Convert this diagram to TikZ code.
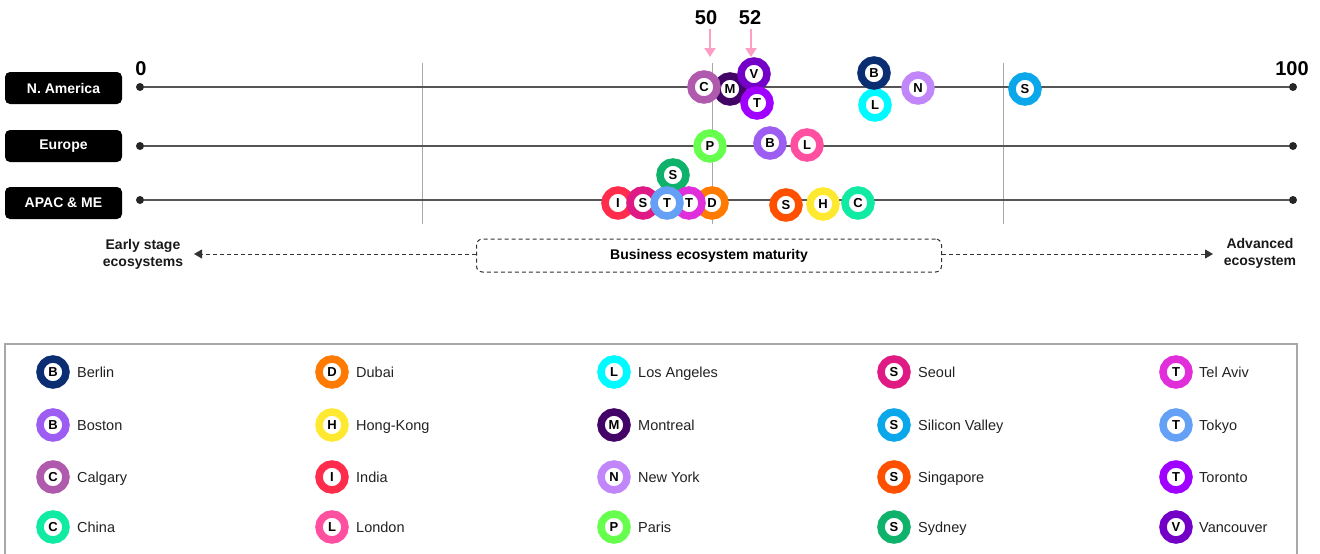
\documentclass[tikz,border=0pt]{standalone}
\usepackage{fontspec}
\setmainfont{Liberation Sans}
\usetikzlibrary{arrows.meta}
\definecolor{cBerlin}{HTML}{0B2D72}
\definecolor{cBoston}{HTML}{9D5CF2}
\definecolor{cCalgary}{HTML}{B05AAE}
\definecolor{cChina}{HTML}{10EBA4}
\definecolor{cDubai}{HTML}{FF7A00}
\definecolor{cHong}{HTML}{FFE930}
\definecolor{cIndia}{HTML}{FF2D4B}
\definecolor{cLondon}{HTML}{FF4FA0}
\definecolor{cLA}{HTML}{00FAFF}
\definecolor{cMontreal}{HTML}{430468}
\definecolor{cNY}{HTML}{C086FA}
\definecolor{cParis}{HTML}{66FF4D}
\definecolor{cSeoul}{HTML}{E01A85}
\definecolor{cSV}{HTML}{0AA8EB}
\definecolor{cSing}{HTML}{FF5000}
\definecolor{cSydney}{HTML}{0EB26A}
\definecolor{cTelAviv}{HTML}{E02EDB}
\definecolor{cTokyo}{HTML}{64A0F5}
\definecolor{cToronto}{HTML}{A000FF}
\definecolor{cVanc}{HTML}{7400C8}
\definecolor{pinkarrow}{HTML}{FF9EC4}
\definecolor{axisgray}{HTML}{555555}
\definecolor{gridgray}{HTML}{A8A8A8}
\definecolor{legtext}{HTML}{222222}
\tikzset{
  ring/.style={circle, draw=#1, line width=7.5pt, fill=white, minimum size=26pt, inner sep=0pt,
    font=\fontsize{13}{13}\selectfont\bfseries, text=black},
  region/.style={rectangle, rounded corners=5pt, fill=black, minimum width=117pt, minimum height=32pt,
    text=white, font=\fontsize{14}{14}\selectfont\bfseries, inner sep=0pt},
  enddot/.style={circle, fill=black!85, minimum size=8pt, inner sep=0pt},
  rowline/.style={draw=axisgray, line width=1.4pt},
  gridline/.style={draw=gridgray, line width=1pt},
  pinkarr/.style={draw=pinkarrow, line width=2.6pt, -{Triangle[length=9pt,width=11pt]}},
  bignum/.style={font=\fontsize{20}{20}\selectfont\bfseries, text=black},
  leg/.style={anchor=base west, font=\fontsize{14.5}{16}\selectfont, text=legtext, inner sep=0pt},
  sidelabel/.style={align=center, font=\fontsize{14}{17}\selectfont\bfseries, text=black!90},
  dasharr/.style={draw=black!80, line width=1pt, dash pattern=on 4pt off 3pt, -{Triangle[length=8pt,width=9pt]}},
}
\begin{document}
\begin{tikzpicture}[x=1pt,y=-1pt]
\useasboundingbox (0,0) rectangle (1320,554);
% grid lines
\draw[gridline] (422,63) -- (422,224);
\draw[gridline] (712,63) -- (712,224);
\draw[gridline] (1003,63) -- (1003,224);
% region labels
\node[region] (rNA) at (63.5,88) {N. America};
\node[region] (rEU) at (63.5,146) {Europe};
\node[region] (rAP) at (63.5,203) {APAC \& ME};
% axis lines
\node[enddot] (na0) at (140,87) {};
\node[enddot] (na100) at (1293,87) {};
\node[enddot] (eu0) at (140,146) {};
\node[enddot] (eu100) at (1293,146) {};
\node[enddot] (ap0) at (140,200) {};
\node[enddot] (ap100) at (1293,200) {};
\draw[rowline] (na0) -- (na100);
\draw[rowline] (eu0) -- (eu100);
\draw[rowline] (ap0) -- (ap100);
% scale numbers
\node[bignum] (n0) at (141,69) {0};
\node[bignum] (n100) at (1292,69) {100};
\node[bignum] (n50) at (706,18) {50};
\node[bignum] (n52) at (750,18) {52};
\coordinate (a50) at (710,57);
\coordinate (a52) at (751,57);
\draw[pinkarr] (710,29) -- (a50);
\draw[pinkarr] (751,29) -- (a52);
% N. America
\node[ring=cMontreal] (naM) at (730,89) {M};
\node[ring=cCalgary] (naC) at (704,87) {C};
\node[ring=cVanc] (naV) at (754,74) {V};
\node[ring=cToronto] (naT) at (757,103) {T};
\node[ring=cLA] (naL) at (875,105) {L};
\node[ring=cBerlin] (naB) at (874,73) {B};
\node[ring=cNY] (naN) at (918,88) {N};
\node[ring=cSV] (naS) at (1025,89) {S};
% Europe
\node[ring=cParis] (euP) at (710,146) {P};
\node[ring=cBoston] (euB) at (770,143) {B};
\node[ring=cLondon] (euL) at (807,145) {L};
% APAC
\node[ring=cSydney] (apSy) at (673,175) {S};
\node[ring=cDubai] (apD) at (712,203) {D};
\node[ring=cTelAviv] (apTA) at (689,203) {T};
\node[ring=cIndia] (apI) at (618,203) {I};
\node[ring=cSeoul] (apSe) at (643,203) {S};
\node[ring=cTokyo] (apTo) at (667,203) {T};
\node[ring=cSing] (apSi) at (786,205) {S};
\node[ring=cHong] (apH) at (823,204) {H};
\node[ring=cChina] (apC) at (858,203) {C};
% maturity axis
\node[sidelabel] (early) at (143,254) {Early stage\\ecosystems};
\node[sidelabel] (adv) at (1260,253.5) {Advanced\\ecosystem};
\node[draw=black!80, line width=1pt, dash pattern=on 4pt off 3pt, rounded corners=6pt,
  minimum width=465pt, minimum height=33pt, inner sep=0pt,
  font=\fontsize{14}{16}\selectfont\bfseries] (mat) at (709,255.5) {Business ecosystem maturity};
\coordinate (eL) at (194,254);
\coordinate (eR) at (1213,254);
\draw[dasharr] (mat.west |- eL) -- (eL);
\draw[dasharr] (mat.east |- eR) -- (eR);
% legend frame
\draw[draw=gridgray, line width=1.2pt] (5,554) -- (5,344) -- (1297,344) -- (1297,554);
% legend column 1
\node[ring=cBerlin] (lB1) at (53,372) {B}; \node[leg] (tB1) at (77,377) {Berlin};
\node[ring=cBoston] (lB2) at (53,425) {B}; \node[leg] (tB2) at (77,430) {Boston};
\node[ring=cCalgary] (lC1) at (53,477) {C}; \node[leg] (tC1) at (77,482) {Calgary};
\node[ring=cChina] (lC2) at (53,527) {C}; \node[leg] (tC2) at (77,532) {China};
% column 2
\node[ring=cDubai] (lD) at (332,372) {D}; \node[leg] (tD) at (356,377) {Dubai};
\node[ring=cHong] (lH) at (332,425) {H}; \node[leg] (tH) at (356,430) {Hong-Kong};
\node[ring=cIndia] (lI) at (332,477) {I}; \node[leg] (tI) at (356,482) {India};
\node[ring=cLondon] (lL) at (332,527) {L}; \node[leg] (tL) at (356,532) {London};
% column 3
\node[ring=cLA] (lLA) at (614,372) {L}; \node[leg] (tLA) at (638,377) {Los Angeles};
\node[ring=cMontreal] (lM) at (614,425) {M}; \node[leg] (tM) at (638,430) {Montreal};
\node[ring=cNY] (lN) at (614,477) {N}; \node[leg] (tN) at (638,482) {New York};
\node[ring=cParis] (lP) at (614,527) {P}; \node[leg] (tP) at (638,532) {Paris};
% column 4
\node[ring=cSeoul] (lSe) at (894,372) {S}; \node[leg] (tSe) at (918,377) {Seoul};
\node[ring=cSV] (lSV) at (894,425) {S}; \node[leg] (tSV) at (918,430) {Silicon Valley};
\node[ring=cSing] (lSi) at (894,477) {S}; \node[leg] (tSi) at (918,482) {Singapore};
\node[ring=cSydney] (lSy) at (894,527) {S}; \node[leg] (tSy) at (918,532) {Sydney};
% column 5
\node[ring=cTelAviv] (lTA) at (1176,372) {T}; \node[leg] (tTA) at (1199,377) {Tel Aviv};
\node[ring=cTokyo] (lTo) at (1176,425) {T}; \node[leg] (tTo) at (1199,430) {Tokyo};
\node[ring=cToronto] (lTr) at (1176,477) {T}; \node[leg] (tTr) at (1199,482) {Toronto};
\node[ring=cVanc] (lV) at (1176,527) {V}; \node[leg] (tV) at (1199,532) {Vancouver};
\end{tikzpicture}
\end{document}
